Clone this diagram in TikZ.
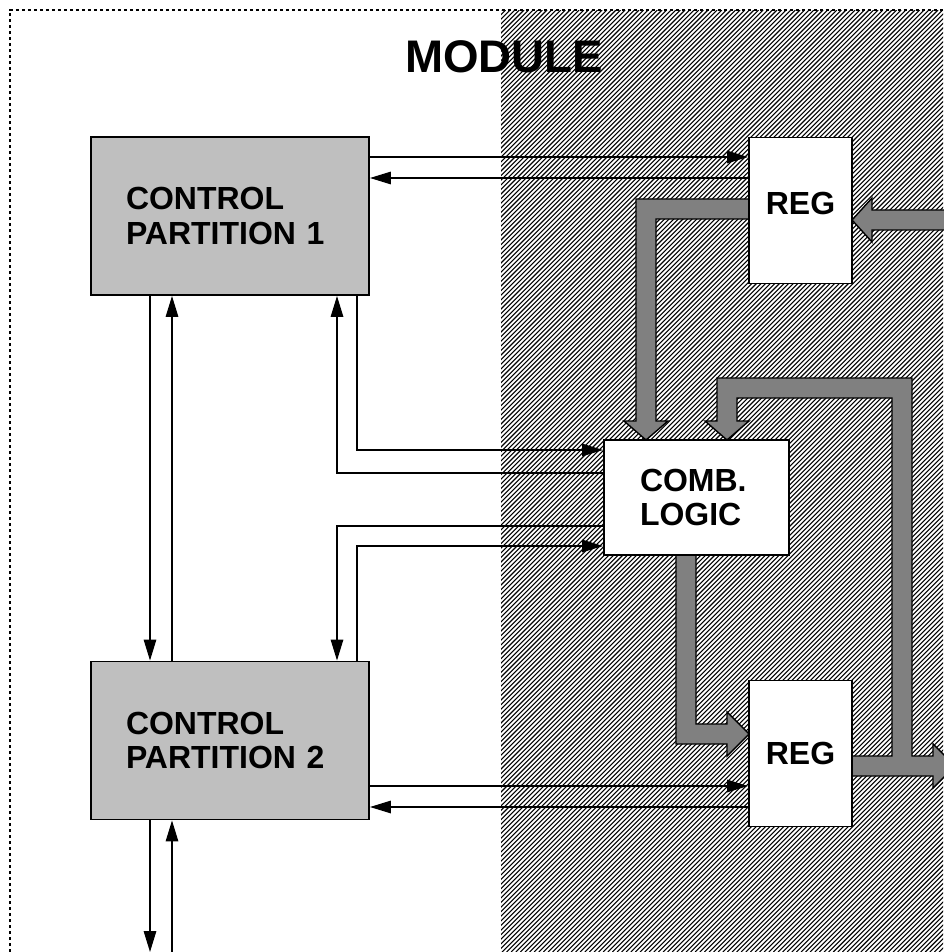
\documentclass[tikz,border=0pt]{standalone}
\usepackage{fontspec}
\setmainfont{Liberation Sans}
\usetikzlibrary{arrows.meta}
\definecolor{boxgray}{HTML}{BFBFBF}
\definecolor{busgray}{HTML}{808080}
\tikzset{
  frame/.style={line width=1.1pt,dash pattern=on 0.07cm off 0.05cm},
  hatch/.style={line width=0.62pt},
  block/.style={draw,line width=1.1pt,fill=white,font=\fontsize{18.2}{19.5}\selectfont\bfseries},
  ctrl/.style={block,fill=boxgray,align=left,text width=4.16cm,inner xsep=0.7cm,minimum height=3.16cm},
  regbox/.style={block,minimum width=2.06cm,minimum height=2.92cm},
  sig/.style={line width=0.85pt,-{Triangle[length=0.42cm,width=0.25cm]}},
  bus/.style={draw=black,line width=0.8pt,fill=busgray,line join=miter},
}

\begin{document}
\begin{tikzpicture}[x=0.02cm,y=-0.02cm]
\useasboundingbox (0,0) rectangle (943,952);

% ---------------------------------------------------------------- hatched half
\begin{scope}
  \clip (501,11) rectangle (943,952);
  \foreach \c in {511,515.6,...,1900}
    \draw[hatch] (\c-952,952) -- (\c-10,10);
\end{scope}

% ---------------------------------------------------------------- module frame
\draw[frame] (10,970) -- (10,10) -- (960,10);
\node[font=\fontsize{26}{28}\selectfont\bfseries] (title) at (504,57) {MODULE};

% ---------------------------------------------------------------- buses
% input into the upper register
\draw[bus] (960,210) -- (872,210) -- (872,198) -- (852,220) -- (872,242) -- (872,230) -- (960,230) -- cycle;
% upper register to logic
\draw[bus] (749,199) -- (636,199) -- (636,421) -- (624,421) -- (646,440) -- (668,421)
  -- (656,421) -- (656,219) -- (749,219) -- cycle;
% logic to lower register
\draw[bus] (676,555) -- (676,744) -- (727,744) -- (727,756) -- (749,734) -- (727,712)
  -- (727,724) -- (696,724) -- (696,555) -- cycle;
% lower register: out, and back to logic
\draw[bus] (852,756) -- (892,756) -- (892,398) -- (737,398) -- (737,421) -- (749,421)
  -- (727,440) -- (705,421) -- (717,421) -- (717,378) -- (912,378) -- (912,756)
  -- (933,756) -- (933,744) -- (955,766) -- (933,788) -- (933,776) -- (852,776) -- cycle;

% ---------------------------------------------------------------- blocks
\node[ctrl] (part1) at (230,216) {CONTROL\\PARTITION 1};
\node[ctrl] (part2) at (230,740.5) {CONTROL\\PARTITION 2};
\node[regbox,text depth=0.3cm] (regin) at (800.5,210.5) {REG};
\node[regbox] (regout) at (800.5,753.5) {REG};
\node[block,align=left,text width=2.26cm,inner xsep=0.72cm,minimum height=2.3cm]
  (comb) at (696.5,497.5) {COMB.\\LOGIC};

% ---------------------------------------------------------------- signals
\draw[sig] (part1.east |- 0,157) -- (regin.west |- 0,157);
\draw[sig] (regin.west |- 0,178) -- (part1.east |- 0,178);
\draw[sig] (part1.south -| 150,0) -- (part2.north -| 150,0);
\draw[sig] (part2.north -| 172,0) -- (part1.south -| 172,0);
\draw[sig] (part1.south -| 357,0) |- (comb.west |- 0,450);
\draw[sig] (comb.west |- 0,473) -| (part1.south -| 337,0);
\draw[sig] (comb.west |- 0,526) -| (part2.north -| 337,0);
\draw[sig] (part2.north -| 357,0) |- (comb.west |- 0,546);
\draw[sig] (part2.east |- 0,786) -- (regout.west |- 0,786);
\draw[sig] (regout.west |- 0,807) -- (part2.east |- 0,807);
\coordinate (down) at (150,952);
\coordinate (up) at (172,952);
\draw[sig] (part2.south -| down) -- (down);
\draw[sig] (up) -- (part2.south -| up);

\end{tikzpicture}
\end{document}
